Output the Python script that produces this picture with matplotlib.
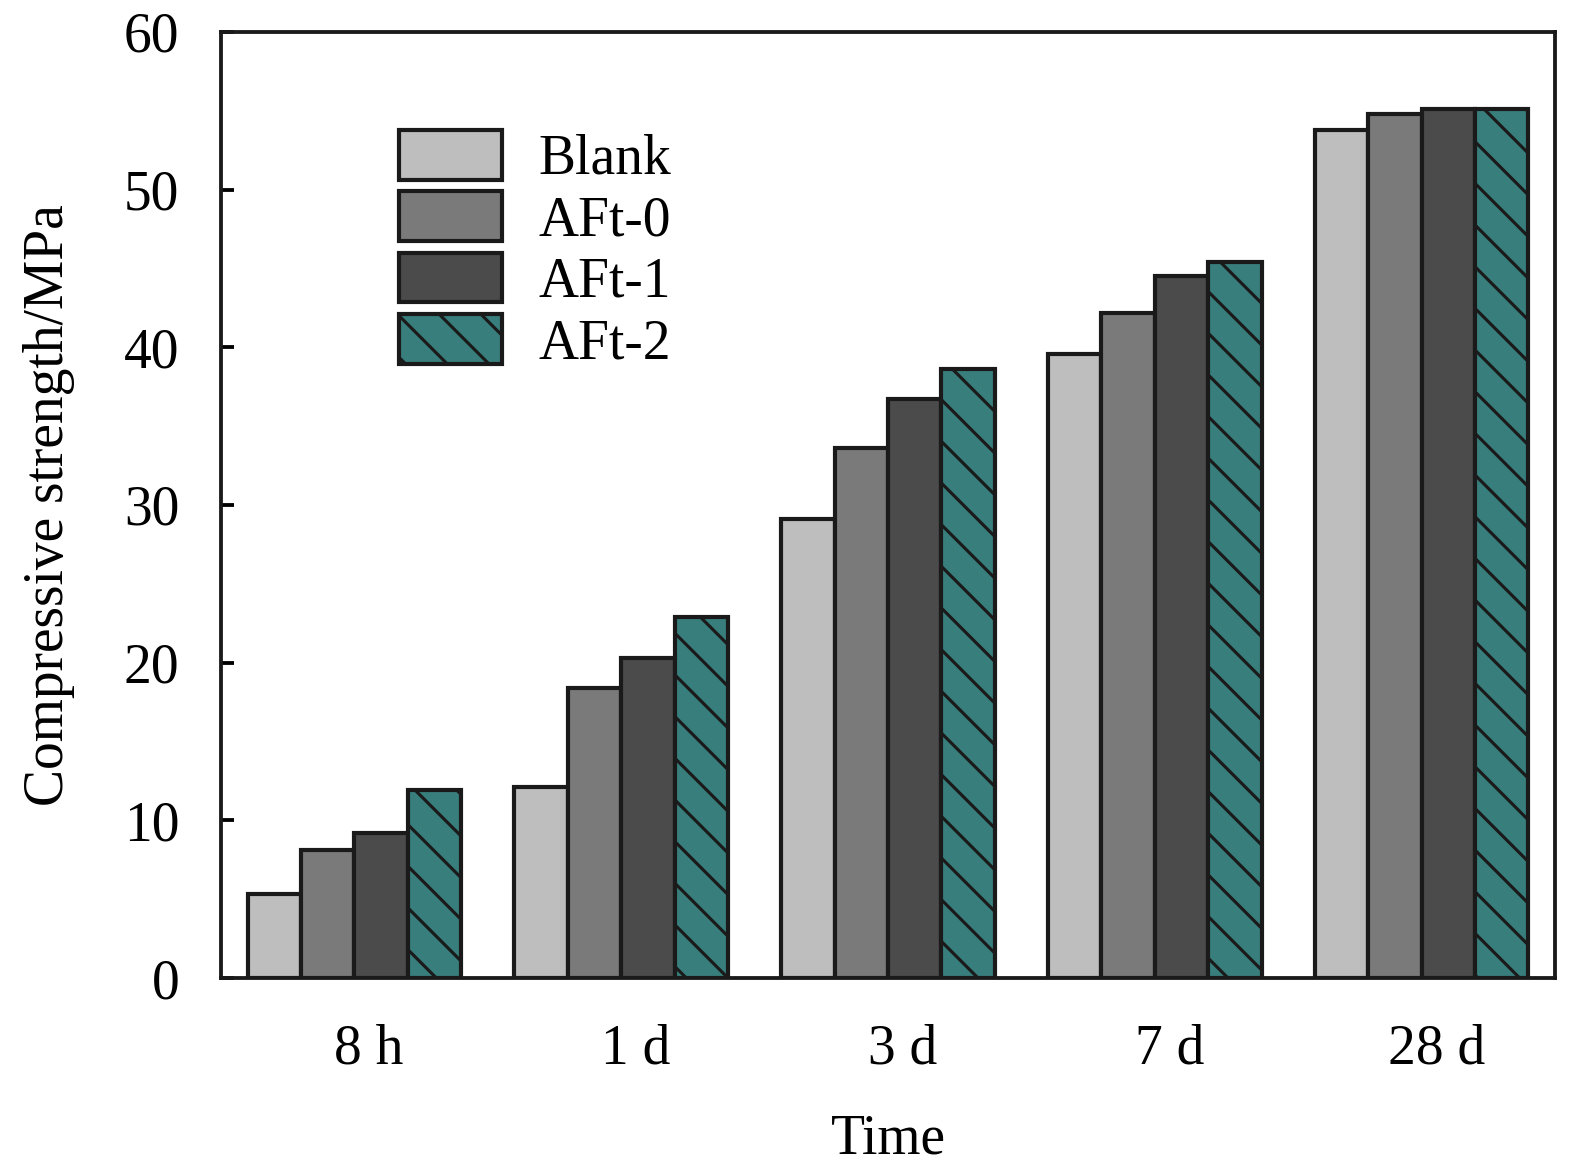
import numpy as np
import matplotlib
matplotlib.use("Agg")
import matplotlib.pyplot as plt

times = ['8 h', '1 d', '3 d', '7 d', '28 d']
series = ['Blank', 'AFt-0', 'AFt-1', 'AFt-2']
blank = [5.3, 12.1, 29.1, 39.6, 53.8]
aft0 = [8.1, 18.4, 33.6, 42.2, 54.8]
aft1 = [9.2, 20.3, 36.7, 44.5, 55.1]
aft2 = [11.9, 22.9, 38.6, 45.4, 55.1]

colors = ['#bebebe', '#7b7a7b', '#4c4b4c', '#387e7c']
hatches = ['', '', '', '\\\\']

plt.rcParams['font.family'] = ['Liberation Serif', 'DejaVu Serif']
plt.rcParams['hatch.linewidth'] = 0.9
plt.rcParams['hatch.color'] = '#1a1a1a'

fig = plt.figure(figsize=(6.3, 4.664), dpi=250)
ax = fig.add_axes([0.1403, 0.1612, 0.847, 0.8114])

x = np.arange(len(times))
w = 0.2
for i, (name, vals) in enumerate(zip(series, [blank, aft0, aft1, aft2])):
    ax.bar(x + 0.1 + w * i, vals, width=w, align='edge', color=colors[i],
           edgecolor='#1a1a1a', linewidth=1.2, hatch=hatches[i], label=name)

ax.set_xlim(0, 5)
ax.set_ylim(0, 60)
ax.set_yticks(range(0, 61, 10))
ax.set_xticks(x + 0.555)
ax.set_xticklabels(times)
ax.tick_params(axis='x', length=0, pad=13, labelsize=16)
ax.tick_params(axis='y', direction='in', length=3.7, width=1.1, pad=12, labelsize=16)
for s in ax.spines.values():
    s.set_linewidth(1.1)
    s.set_color('#1a1a1a')

ax.set_xlabel('Time', fontsize=16, labelpad=11)
ax.set_ylabel('Compressive strength/MPa', fontsize=16, labelpad=14)

leg = ax.legend(loc='upper left', bbox_to_anchor=(0.117, 0.92), frameon=False,
                fontsize=16, handlelength=1.85, handleheight=1.0,
                handletextpad=0.65, labelspacing=0.1, borderaxespad=0)

fig.savefig('out.png', dpi=250)
print("Done")
